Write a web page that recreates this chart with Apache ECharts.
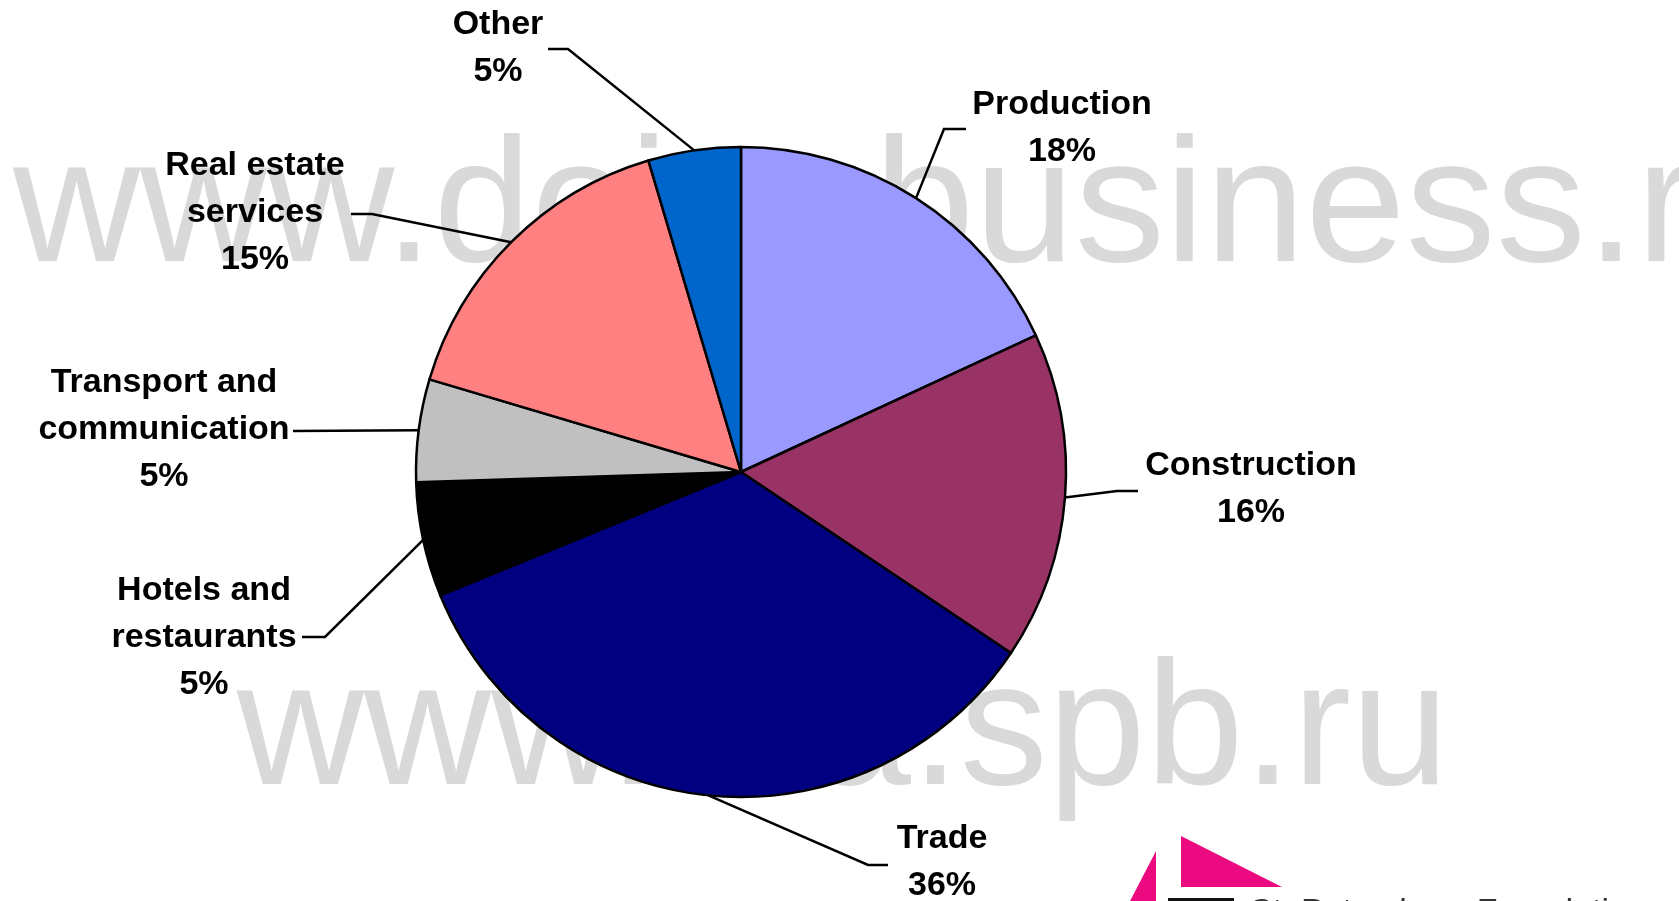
<!DOCTYPE html>
<html>
<head>
<meta charset="utf-8">
<title>Structure by sector</title>
<script src="https://cdn.jsdelivr.net/npm/echarts@6/dist/echarts.min.js"></script>
<style>
  html, body { margin: 0; padding: 0; background: #fff; }
  #chart { width: 1679px; height: 901px; }
</style>
</head>
<body>
<div id="chart"></div>
<script>
// 行业名称
var categories = ['Production', 'Construction', 'Trade', 'Hotels and\nrestaurants',
  'Transport and\ncommunication', 'Real estate\nservices', 'Other'];
// 扇区大小（按图量出来的）
var sliceValues = [18.1, 16.3, 34.4, 5.7, 5.1, 15.8, 4.6];
// 标签上的百分比
var percentLabels = ['18%', '16%', '36%', '5%', '5%', '15%', '5%'];
var sliceColors = ['#9999FF', '#993366', '#000080', '#000000', '#C0C0C0', '#FF8080', '#0066CC'];

// 标签位置 / 引导线拐点 / 引导线终点
var labelPos = [[1062, 128], [1251, 489], [942, 862], [204, 638], [164, 430], [255, 213], [498, 48]];
var lineElbow = [[944, 129], [1117, 491], [868, 865], [325, 637], [293, 431], [372, 214], [568, 49]];
var lineEnd = [[966, 129], [1138, 491], [888, 865], [302, 637], [293, 431], [351, 214], [548, 49]];

var chart = echarts.init(document.getElementById('chart'));

var pieData = categories.map(function (name, i) {
  return { name: name, value: sliceValues[i], itemStyle: { color: sliceColors[i] } };
});

var wmFont = '176px "Liberation Sans", Arial, sans-serif';

var option = {
  backgroundColor: '#fff',
  animation: false,
  graphic: [
    // 水印
    {
      type: 'text', x: 13, y: 124, z: -10, silent: true,
      style: { text: 'www.doing', fill: '#D9D9D9', font: wmFont }
    },
    {
      type: 'text', x: 874, y: 124, scaleX: 1.025, z: -10, silent: true,
      style: { text: 'business.ru', fill: '#D9D9D9', font: wmFont }
    },
    {
      type: 'text', x: 237, y: 647, z: -10, silent: true,
      style: { text: 'www.', fill: '#D9D9D9', font: wmFont }
    },
    {
      type: 'text', x: 813, y: 647, z: -10, silent: true,
      style: { text: 'a.spb.ru', fill: '#D9D9D9', font: wmFont }
    },
    // logo
    {
      type: 'polygon', z: 100, silent: true,
      shape: { points: [[1181, 836], [1181, 887], [1282, 887]] },
      style: { fill: '#EC0A80' }
    },
    {
      type: 'polygon', z: 100, silent: true,
      shape: { points: [[1156, 851], [1156, 905], [1128, 905]] },
      style: { fill: '#EC0A80' }
    },
    {
      type: 'rect', z: 100, silent: true,
      shape: { x: 1168, y: 898, width: 66, height: 10 },
      style: { fill: '#111' }
    },
    {
      type: 'text', left: 1250, top: 896, z: 100, silent: true,
      style: { text: 'St. Petersburg Foundation', fill: '#333', font: '34px "Liberation Sans", Arial, sans-serif' }
    }
  ],
  series: [{
    type: 'pie',
    center: [741, 472],
    radius: 325,
    startAngle: 90,
    clockwise: true,
    avoidLabelOverlap: false,
    data: pieData,
    itemStyle: { borderColor: '#000', borderWidth: 2.5 },
    emphasis: { disabled: true },
    label: {
      show: true,
      position: 'outside',
      formatter: function (p) {
        return p.name + '\n' + percentLabels[p.dataIndex];
      },
      color: '#000',
      fontSize: 34,
      fontWeight: 'bold',
      fontFamily: '"Liberation Sans", Arial, sans-serif',
      lineHeight: 47,
      align: 'center'
    },
    labelLine: {
      show: true,
      length: 20,
      length2: 20,
      lineStyle: { color: '#000', width: 2.5 }
    },
    labelLayout: function (params) {
      var i = params.dataIndex;
      var start = params.labelLinePoints ? params.labelLinePoints[0] : lineElbow[i];
      return {
        x: labelPos[i][0],
        y: labelPos[i][1],
        align: 'center',
        verticalAlign: 'middle',
        labelLinePoints: [start, lineElbow[i], lineEnd[i]]
      };
    }
  }]
};

chart.setOption(option);
</script>
</body>
</html>
